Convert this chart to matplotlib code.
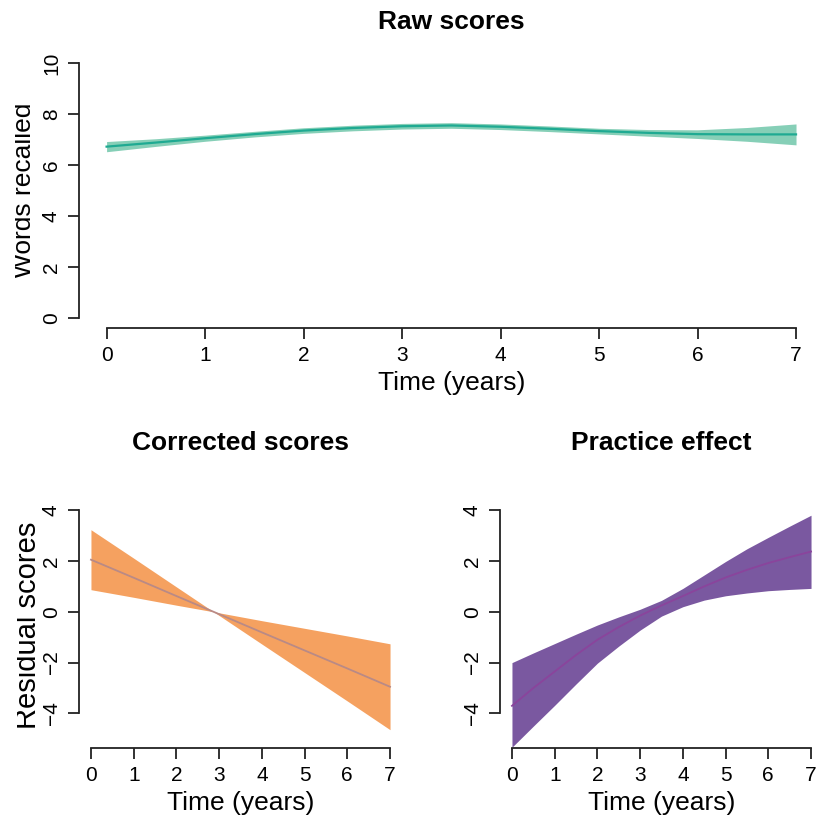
import numpy as np
import matplotlib.pyplot as plt
from matplotlib.transforms import Bbox

plt.rcParams['font.family'] = ['Liberation Sans', 'DejaVu Sans']

# Raw scores (words recalled)
raw_t = [0, 0.5, 1, 1.5, 2, 2.5, 3, 3.5, 4, 4.5, 5, 5.5, 6, 6.5, 7]
raw_mean = [6.72, 6.88, 7.05, 7.21, 7.35, 7.45, 7.52, 7.55, 7.5, 7.42, 7.33, 7.26, 7.21, 7.2, 7.2]
raw_lo = [6.52, 6.73, 6.93, 7.10, 7.24, 7.34, 7.41, 7.44, 7.39, 7.31, 7.22, 7.13, 7.04, 6.93, 6.79]
raw_hi = [6.92, 7.03, 7.17, 7.32, 7.46, 7.56, 7.63, 7.66, 7.61, 7.53, 7.44, 7.39, 7.38, 7.47, 7.61]

# Corrected scores (residuals)
cor_t = [0, 1, 2, 2.87, 4, 5, 6, 7]
cor_mean = [2.05, 1.34, 0.62, 0.0, -0.81, -1.52, -2.23, -2.95]
cor_lo = [0.87, 0.57, 0.26, 0.0, -1.27, -2.39, -3.51, -4.64]
cor_hi = [3.23, 2.11, 0.98, 0.0, -0.35, -0.65, -0.95, -1.26]

# Practice effect
pra_t = [0, 0.5, 1, 1.5, 2, 2.5, 3, 3.5, 4, 4.5, 5, 5.5, 6, 6.5, 7]
pra_mean = [-3.7, -3.0, -2.35, -1.7, -1.1, -0.6, -0.15, 0.25, 0.62, 1.0, 1.35, 1.65, 1.92, 2.15, 2.37]
pra_lo = [-5.33, -4.5, -3.68, -2.84, -2.02, -1.35, -0.72, -0.17, 0.2, 0.46, 0.63, 0.74, 0.83, 0.88, 0.92]
pra_hi = [-2.0, -1.62, -1.25, -0.88, -0.52, -0.2, 0.1, 0.45, 0.92, 1.45, 1.98, 2.48, 2.93, 3.37, 3.8]

W, H = 817, 816
fig = plt.figure(figsize=(W / 100, H / 100), dpi=100)


def rstyle(ax, xlim, ylim, yticks):
    # base-R look: 4% padding, detached axes spanning the ticks only
    dx = 0.04 * (xlim[1] - xlim[0])
    dy = 0.04 * (ylim[1] - ylim[0])
    ax.set_xlim(xlim[0] - dx, xlim[1] + dx)
    ax.set_ylim(ylim[0] - dy, ylim[1] + dy)
    ax.set_xticks(range(0, 8))
    ax.set_yticks(yticks)
    ax.set_yticklabels([str(v).replace('-', '\u2212') for v in yticks])
    for s in ['top', 'right']:
        ax.spines[s].set_visible(False)
    ax.spines['left'].set_bounds(yticks[0], yticks[-1])
    ax.spines['bottom'].set_bounds(0, 7)
    for s in ['left', 'bottom']:
        ax.spines[s].set_linewidth(1.3)
        ax.spines[s].set_color('#222222')
    ax.tick_params(direction='out', length=8, width=1.3, color='#222222',
                   labelsize=15, pad=5)
    for lab in ax.get_yticklabels():
        lab.set_rotation(90)
        lab.set_va('center')
    ax.set_xlabel('Time (years)', fontsize=19, labelpad=4)


def ylab(text, ypix, xright, size, clipx):
    t = fig.text(xright / W, 1 - ypix / H, text, rotation=90, fontsize=size,
                 ha='right', va='center')
    t.set_clip_box(Bbox([[clipx, 0], [W, H]]))
    t.set_clip_on(True)


ax1 = fig.add_axes([79 / W, 1 - 328.2 / H, 744.6 / W, 275.4 / H])
ax1.fill_between(raw_t, raw_lo, raw_hi, color='#86CFB7', lw=0)
ax1.plot(raw_t, raw_mean, color='#1FAA92', lw=1.6)
rstyle(ax1, (0, 7), (0, 10), [0, 2, 4, 6, 8, 10])
ax1.set_title('Raw scores', fontsize=19, fontweight='bold', pad=17)
ylab('Words recalled', 190, 36, 19, 15)

ax2 = fig.add_axes([79 / W, 1 - 748 / H, 323 / W, 247 / H])
ax2.fill_between(cor_t, cor_lo, cor_hi, color='#F5A160', lw=0)
ax2.plot(cor_t, cor_mean, color='#B98A86', lw=1.3)
rstyle(ax2, (0, 7), (-5, 4), [-4, -2, 0, 2, 4])
ax2.set_title('Corrected scores', fontsize=19, fontweight='bold', pad=37)
ylab('Residual scores', 625, 42, 21, 17)

ax3 = fig.add_axes([500 / W, 1 - 748 / H, 323 / W, 247 / H])
ax3.fill_between(pra_t, pra_lo, pra_hi, color='#7A58A0', lw=0)
ax3.plot(pra_t, pra_mean, color='#8A449C', lw=1.3)
rstyle(ax3, (0, 7), (-5, 4), [-4, -2, 0, 2, 4])
ax3.set_title('Practice effect', fontsize=19, fontweight='bold', pad=37)

fig.savefig('out.png', dpi=100)
